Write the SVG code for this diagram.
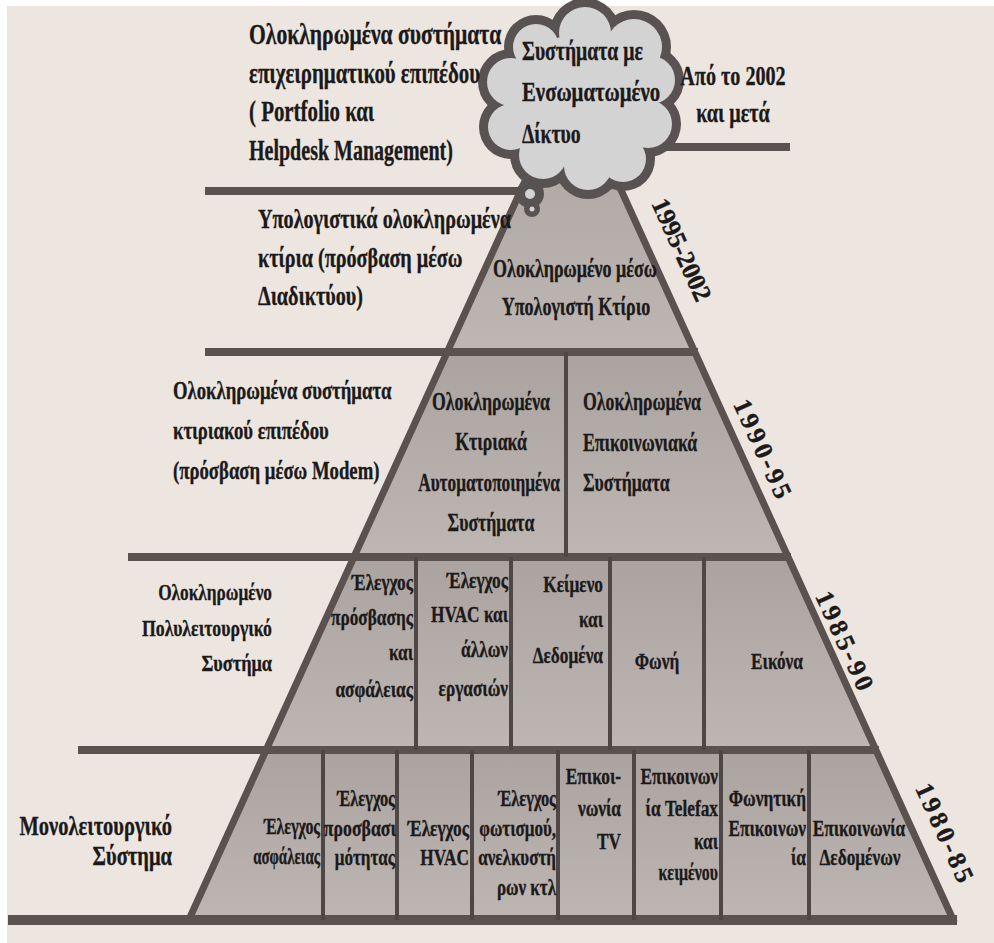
<svg xmlns="http://www.w3.org/2000/svg" width="994" height="943" viewBox="0 0 994 943">
  <defs>
    <linearGradient id="levelFill" x1="0" y1="0" x2="0" y2="1">
      <stop offset="0" stop-color="#aba39f"/>
      <stop offset="1" stop-color="#bdb6b2"/>
    </linearGradient>
    <style>
      .t { font-family: "Liberation Serif", "DejaVu Serif", serif; font-weight: bold; fill: #1b1919; stroke: #1b1919; stroke-width: 0.35px; }
      .s29 { font-size: 29px; }
      .s28 { font-size: 28px; }
      .s27 { font-size: 27px; }
      .s26 { font-size: 26px; }
      .s25 { font-size: 25px; }
      .s24 { font-size: 24px; }
      .s23 { font-size: 23px; }
      .end { text-anchor: end; }
      .mid { text-anchor: middle; }
      .year { font-family: "Liberation Serif", "DejaVu Serif", serif; font-weight: bold; fill: #1b1919; stroke: #1b1919; stroke-width: 0.35px; font-size: 26px; text-anchor: middle; }
      .bar { stroke: #5b5250; stroke-width: 8; fill: none; }
      .base { stroke: #5b5250; stroke-width: 10; fill: none; }
      .edge { stroke: #5b5250; stroke-width: 7; fill: none; stroke-linecap: round; }
      .div { stroke: #4f4745; stroke-width: 4; fill: none; }
      .level { fill: url(#levelFill); }
      .cloud-rim { fill: #585252; }
      .cloud-body { fill: #d4d3d3; }
    </style>
  </defs>

  <!-- paper -->
  <rect x="0" y="0" width="994" height="943" fill="#ffffff"/>
  <rect x="7" y="6" width="987" height="937" fill="#ede6e0"/>

  <!-- pyramid body, one band per era -->
  <g id="pyramid">
    <polygon class="level" points="571,80 694.8,352 447.2,352"/>
    <polygon class="level" points="447.2,352 694.8,352 788,557 354,557"/>
    <polygon class="level" points="354,557 788,557 876,750 266,750"/>
    <polygon class="level" points="266,750 876,750 953.7,921 188.3,921"/>
  </g>

  <!-- connectors: pyramid edges, era rules and cell dividers -->
  <g id="connectors">
    <line class="edge" x1="571" y1="80" x2="188.3" y2="921"/>
    <line class="edge" x1="571" y1="80" x2="953.7" y2="921"/>
    <line class="bar" x1="205" y1="191" x2="521" y2="191"/>
    <line class="bar" x1="205" y1="352" x2="698" y2="352"/>
    <line class="bar" x1="128" y1="557" x2="791" y2="557"/>
    <line class="bar" x1="78" y1="750" x2="879" y2="750"/>
    <line class="base" x1="8" y1="920" x2="957" y2="920"/>
    <line class="bar" x1="650" y1="147" x2="790" y2="147"/>
    <line class="div" x1="566" y1="352" x2="566" y2="557"/>
    <line class="div" x1="416" y1="557" x2="416" y2="750"/>
    <line class="div" x1="511" y1="557" x2="511" y2="750"/>
    <line class="div" x1="610" y1="557" x2="610" y2="750"/>
    <line class="div" x1="704" y1="557" x2="704" y2="750"/>
    <line class="div" x1="323" y1="750" x2="323" y2="920"/>
    <line class="div" x1="397" y1="750" x2="397" y2="920"/>
    <line class="div" x1="472" y1="750" x2="472" y2="920"/>
    <line class="div" x1="558" y1="750" x2="558" y2="920"/>
    <line class="div" x1="634" y1="750" x2="634" y2="920"/>
    <line class="div" x1="721" y1="750" x2="721" y2="920"/>
    <line class="div" x1="809" y1="750" x2="809" y2="920"/>
  </g>

  <!-- cloud at the apex: dark rim circles under light body circles -->
  <g id="cloud">
    <g class="cloud-rim">
      <circle cx="536" cy="47" r="32"/>
      <circle cx="585" cy="33" r="35"/>
      <circle cx="634" cy="47" r="37"/>
      <circle cx="651" cy="80" r="33"/>
      <circle cx="648" cy="124" r="33"/>
      <circle cx="623" cy="159" r="32"/>
      <circle cx="588" cy="166" r="33"/>
      <circle cx="543" cy="155" r="33"/>
      <circle cx="511" cy="127" r="32"/>
      <circle cx="511" cy="82" r="33"/>
      <circle cx="530" cy="194" r="14"/>
      <circle cx="532" cy="209" r="8"/>
    </g>
    <g class="cloud-body">
      <circle cx="536" cy="47" r="23"/>
      <circle cx="585" cy="33" r="26"/>
      <circle cx="634" cy="47" r="28"/>
      <circle cx="651" cy="80" r="24"/>
      <circle cx="648" cy="124" r="24"/>
      <circle cx="623" cy="159" r="23"/>
      <circle cx="588" cy="166" r="24"/>
      <circle cx="543" cy="155" r="24"/>
      <circle cx="511" cy="127" r="23"/>
      <circle cx="511" cy="82" r="24"/>
      <circle cx="580" cy="100" r="66"/>
      <circle cx="530" cy="194" r="5"/>
      <circle cx="532" cy="209" r="2.5"/>
    </g>
    <text class="t s27" transform="translate(522 60) scale(0.73 1)">Συστήματα με</text>
    <text class="t s27" transform="translate(522 101) scale(0.77 1)">Ενσωματωμένο</text>
    <text class="t s27" transform="translate(522 143) scale(0.73 1)">Δίκτυο</text>
  </g>

  <g id="era-2002">
    <text class="t s28 mid" transform="translate(733 85) scale(0.72 1)">Από το 2002</text>
    <text class="t s28 mid" transform="translate(733 122) scale(0.72 1)">και μετά</text>
  </g>

  <g id="label-business">
    <text class="t s29" transform="translate(249 44) scale(0.745 1)">Ολοκληρωμένα συστήματα</text>
    <text class="t s29" transform="translate(249 83) scale(0.72 1)">επιχειρηματικού επιπέδου</text>
    <text class="t s29" transform="translate(249 121) scale(0.72 1)">( Portfolio και</text>
    <text class="t s29" transform="translate(249 160) scale(0.69 1)">Helpdesk Management)</text>
  </g>

  <g id="label-internet">
    <text class="t s28" transform="translate(258 228) scale(0.72 1)">Υπολογιστικά ολοκληρωμένα</text>
    <text class="t s28" transform="translate(258 267) scale(0.72 1)">κτίρια (πρόσβαση μέσω</text>
    <text class="t s28" transform="translate(258 305) scale(0.72 1)">Διαδικτύου)</text>
  </g>

  <g id="cell-computer-building">
    <text class="t s25 mid" transform="translate(575 277) scale(0.72 1)">Ολοκληρωμένο μέσω</text>
    <text class="t s25 mid" transform="translate(576 315) scale(0.72 1)">Υπολογιστή Κτίριο</text>
  </g>

  <g id="label-modem">
    <text class="t s26" transform="translate(173 399) scale(0.72 1)">Ολοκληρωμένα συστήματα</text>
    <text class="t s26" transform="translate(173 439) scale(0.72 1)">κτιριακού επιπέδου</text>
    <text class="t s26" transform="translate(173 479) scale(0.72 1)">(πρόσβαση μέσω Modem)</text>
  </g>

  <g id="cell-building-automation">
    <text class="t s25 mid" transform="translate(491 410) scale(0.71 1)">Ολοκληρωμένα</text>
    <text class="t s25 mid" transform="translate(491 450) scale(0.71 1)">Κτιριακά</text>
    <text class="t s25 mid" transform="translate(489 491) scale(0.69 1)">Αυτοματοποιημένα</text>
    <text class="t s25 mid" transform="translate(491 531) scale(0.71 1)">Συστήματα</text>
  </g>

  <g id="cell-communication-systems">
    <text class="t s25" transform="translate(583 410) scale(0.71 1)">Ολοκληρωμένα</text>
    <text class="t s25" transform="translate(583 451) scale(0.71 1)">Επικοινωνιακά</text>
    <text class="t s25" transform="translate(583 491) scale(0.71 1)">Συστήματα</text>
  </g>

  <g id="label-multifunction">
    <text class="t s24 end" transform="translate(272 600) scale(0.72 1)">Ολοκληρωμένο</text>
    <text class="t s24 end" transform="translate(272 636) scale(0.74 1)">Πολυλειτουργικό</text>
    <text class="t s24 end" transform="translate(272 671) scale(0.76 1)">Συστήμα</text>
  </g>

  <g id="cell-access-security">
    <text class="t s24 end" transform="translate(413 590) scale(0.72 1)">Έλεγχος</text>
    <text class="t s24 end" transform="translate(413 625) scale(0.72 1)">πρόσβασης</text>
    <text class="t s24 end" transform="translate(413 660) scale(0.72 1)">και</text>
    <text class="t s24 end" transform="translate(413 697) scale(0.72 1)">ασφάλειας</text>
  </g>

  <g id="cell-hvac-tasks">
    <text class="t s24 end" transform="translate(508 588) scale(0.72 1)">Έλεγχος</text>
    <text class="t s24 end" transform="translate(508 622) scale(0.72 1)">HVAC και</text>
    <text class="t s24 end" transform="translate(508 657) scale(0.72 1)">άλλων</text>
    <text class="t s24 end" transform="translate(508 696) scale(0.72 1)">εργασιών</text>
  </g>

  <g id="cell-text-data">
    <text class="t s24 end" transform="translate(603 592) scale(0.72 1)">Κείμενο</text>
    <text class="t s24 end" transform="translate(603 627) scale(0.72 1)">και</text>
    <text class="t s24 end" transform="translate(603 663) scale(0.72 1)">Δεδομένα</text>
  </g>

  <g id="cell-voice">
    <text class="t s24 mid" transform="translate(657 669) scale(0.72 1)">Φωνή</text>
  </g>

  <g id="cell-image">
    <text class="t s24 mid" transform="translate(777 669) scale(0.72 1)">Εικόνα</text>
  </g>

  <g id="label-single-function">
    <text class="t s27 end" transform="translate(172 835) scale(0.76 1)">Μονολειτουργικό</text>
    <text class="t s27 end" transform="translate(172 865) scale(0.76 1)">Σύστημα</text>
  </g>

  <g id="cell-security">
    <text class="t s24 end" transform="translate(320 834) scale(0.66 1)">Έλεγχος</text>
    <text class="t s24 end" transform="translate(320 864) scale(0.62 1)">ασφάλειας</text>
  </g>

  <g id="cell-accessibility">
    <text class="t s24 end" transform="translate(395 806) scale(0.68 1)">Έλεγχος</text>
    <text class="t s24 end" transform="translate(396 836) scale(0.74 1)">προσβασι</text>
    <text class="t s24 end" transform="translate(395 865) scale(0.71 1)">μότητας</text>
  </g>

  <g id="cell-hvac">
    <text class="t s24 end" transform="translate(469 836) scale(0.72 1)">Έλεγχος</text>
    <text class="t s24 end" transform="translate(469 865) scale(0.72 1)">HVAC</text>
  </g>

  <g id="cell-lighting-lifts">
    <text class="t s24 end" transform="translate(556 806) scale(0.68 1)">Έλεγχος</text>
    <text class="t s24 end" transform="translate(556 836) scale(0.71 1)">φωτισμού,</text>
    <text class="t s24 end" transform="translate(556 865) scale(0.71 1)">ανελκυστή</text>
    <text class="t s24 end" transform="translate(556 895) scale(0.71 1)">ρων κτλ</text>
  </g>

  <g id="cell-tv">
    <text class="t s24 end" transform="translate(621 784) scale(0.72 1)">Επικοι-</text>
    <text class="t s24 end" transform="translate(621 816) scale(0.72 1)">νωνία</text>
    <text class="t s24 end" transform="translate(621 849) scale(0.72 1)">TV</text>
  </g>

  <g id="cell-telefax">
    <text class="t s24 end" transform="translate(718 784) scale(0.72 1)">Επικοινων</text>
    <text class="t s24 end" transform="translate(718 816) scale(0.72 1)">ία Telefax</text>
    <text class="t s24 end" transform="translate(718 849) scale(0.72 1)">και</text>
    <text class="t s24 end" transform="translate(718 880) scale(0.66 1)">κειμένου</text>
  </g>

  <g id="cell-voice-comm">
    <text class="t s24 end" transform="translate(806 806) scale(0.72 1)">Φωνητική</text>
    <text class="t s24 end" transform="translate(806 836) scale(0.72 1)">Επικοινων</text>
    <text class="t s24 end" transform="translate(806 865) scale(0.72 1)">ία</text>
  </g>

  <g id="cell-data-comm">
    <text class="t s24 mid" transform="translate(859 836) scale(0.72 1)">Επικοινωνία</text>
    <text class="t s24 mid" transform="translate(860 865) scale(0.72 1)">Δεδομένων</text>
  </g>

  <!-- era labels along the right slope -->
  <g id="years">
    <text class="year" transform="translate(681 250) rotate(65.5)" dy="8" textLength="110">1995-2002</text>
    <text class="year" transform="translate(762 449) rotate(65.5)" dy="8" textLength="106">1990-95</text>
    <text class="year" transform="translate(844 641) rotate(65.5)" dy="8" textLength="106">1985-90</text>
    <text class="year" transform="translate(944 833) rotate(65.5)" dy="8" textLength="106">1980-85</text>
  </g>
</svg>
